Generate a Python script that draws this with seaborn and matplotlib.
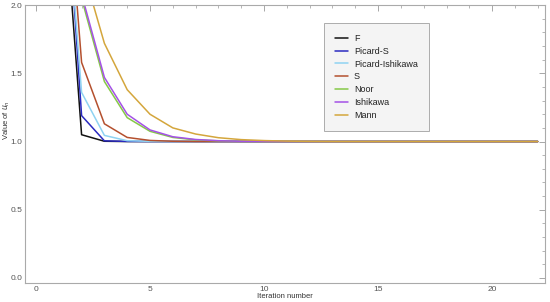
import matplotlib
matplotlib.use("Agg")
import matplotlib.pyplot as plt
import seaborn as sns
import pandas as pd
from matplotlib.ticker import MultipleLocator

# iteration numbers and the value of u_n for each scheme
iterations = list(range(1, 23))
f_vals = [3.3, 1.05, 1.002] + [1.0] * 19
picard_s = [3.7, 1.19, 1.005, 1.001] + [1.0] * 18
picard_ishikawa = [3.5, 1.36, 1.045, 1.006, 1.001] + [1.0] * 17
s_vals = [3.7, 1.58, 1.13, 1.03, 1.008, 1.002] + [1.0] * 16
noor = [4.0, 2.05, 1.44, 1.175, 1.075, 1.03, 1.012, 1.005, 1.002, 1.001] + [1.0] * 12
ishikawa = [4.0, 2.08, 1.47, 1.2, 1.085, 1.035, 1.015, 1.006, 1.002, 1.001] + [1.0] * 12
mann = [4.2, 2.3, 1.72, 1.38, 1.2, 1.1, 1.055, 1.028, 1.014, 1.007, 1.003, 1.001] + [1.0] * 10

series_names = ["F", "Picard-S", "Picard-Ishikawa", "S", "Noor", "Ishikawa", "Mann"]
series_vals = [f_vals, picard_s, picard_ishikawa, s_vals, noor, ishikawa, mann]
colors = ["#111111", "#2a2ac0", "#8fd3f2", "#b4502e", "#86c847", "#a452e6", "#d4a63c"]

# build a long table for seaborn
rows = []
for name, vals in zip(series_names, series_vals):
    for it, v in zip(iterations, vals):
        rows.append({"iteration": it, "value": v, "method": name})
df = pd.DataFrame(rows)

sns.set_style("white")
plt.rcParams["font.family"] = ["Liberation Sans", "DejaVu Sans"]

fig = plt.figure(figsize=(5.5, 3.02), dpi=100)
ax = fig.add_axes([0.0455, 0.063, 0.9455, 0.92])

sns.lineplot(data=df, x="iteration", y="value", hue="method",
             hue_order=series_names, palette=colors, linewidth=1.1, ax=ax)

ax.set_xlim(-0.48, 22.32)
ax.set_ylim(-0.037, 2.0)
ax.xaxis.set_major_locator(MultipleLocator(5))
ax.xaxis.set_minor_locator(MultipleLocator(1))
ax.yaxis.set_major_locator(MultipleLocator(0.5))
ax.yaxis.set_minor_locator(MultipleLocator(0.1))
ax.yaxis.set_major_formatter(matplotlib.ticker.FormatStrFormatter("%.1f"))
ax.tick_params(which="both", direction="in", top=True, right=True,
               colors="#999999", labelcolor="#555555", labelsize=6, pad=2)
ax.tick_params(which="major", length=4, width=0.6)
ax.tick_params(which="minor", length=2, width=0.5)
for sp in ax.spines.values():
    sp.set_color("#aaaaaa")
    sp.set_linewidth(0.8)

ax.set_xlabel("Iteration number", fontsize=5.5, color="#333333")
ax.set_ylabel("Value of $u_n$", fontsize=5.5, color="#333333")
ax.xaxis.set_label_coords(0.5, -0.05)
ax.yaxis.set_label_coords(-0.036, 0.585)
ax.xaxis.label.set_va("center")
ax.yaxis.label.set_va("center")

leg = ax.legend(loc="upper left", bbox_to_anchor=(0.575, 0.935), fontsize=6.5,
                frameon=True, fancybox=False, handlelength=1.45, labelspacing=0.42,
                borderpad=1.2, handletextpad=0.65, borderaxespad=0)
leg.get_frame().set_facecolor("#f2f2f2")
leg.get_frame().set_edgecolor("#999999")
leg.get_frame().set_linewidth(0.7)
for t in leg.get_texts():
    t.set_color("#222222")

fig.savefig("out.png", dpi=100)
